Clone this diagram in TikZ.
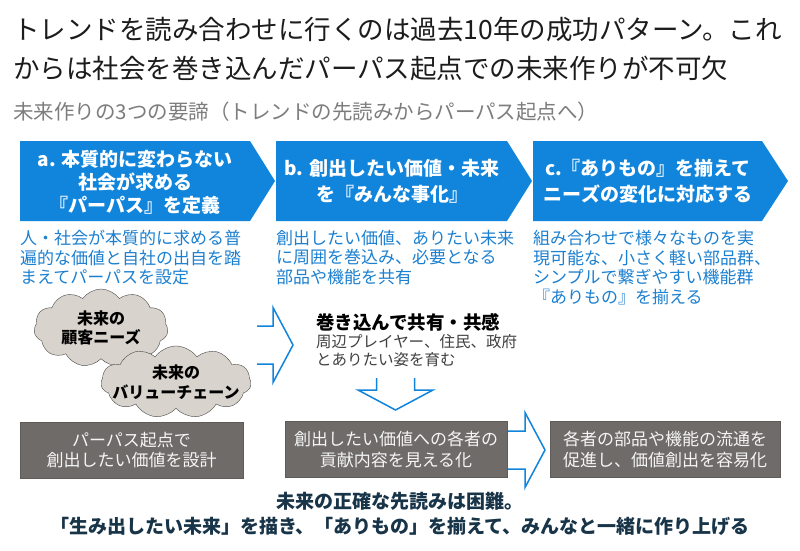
\documentclass[tikz,border=0pt]{standalone}
\usepackage{fontspec}
\setmainfont{Noto Sans CJK JP}
\usepackage{tikz}
\usetikzlibrary{shapes.symbols}
\definecolor{chevblue}{RGB}{17,133,220}
\definecolor{txtblue}{RGB}{28,128,208}
\definecolor{boxgray}{RGB}{111,107,105}
\definecolor{cloudfill}{RGB}{216,211,204}
\definecolor{navy}{RGB}{24,52,72}
\definecolor{subgray}{RGB}{125,125,125}
\definecolor{titlegray}{RGB}{28,28,28}

\begin{document}
\begin{tikzpicture}[x=1pt,y=-1pt,
    chevtext/.style={white,font=\bfseries\fontsize{19}{23}\selectfont,align=center},
    desc/.style={txtblue,font=\fontsize{17}{19.5}\selectfont,align=left,anchor=north west,inner sep=0pt},
    cloudnode/.style={cloud,cloud puffs=11,cloud puff arc=110,cloud ignores aspect,
      draw=gray!60!black,fill=cloudfill,inner sep=0pt},
    cloudtext/.style={font=\bfseries\fontsize{16}{19.5}\selectfont,align=center,inner sep=0pt},
    graybox/.style={fill=boxgray,draw=boxgray!85!black,text=white!92!gray,
      font=\fontsize{17}{20.5}\selectfont,align=center,minimum height=56pt},
    openarrow/.style={chevblue,line width=1.5pt,line join=miter}]
    \useasboundingbox (0,0) rectangle (800,551);
    \fill[white] (0,0) rectangle (800,551);

    \node[anchor=base west,inner sep=0pt,text=titlegray,font=\fontsize{26.5}{38}\selectfont] (title1) at (13,40)
      {トレンドを読み合わせに行くのは過去10年の成功パターン。これ};
    \node[anchor=base west,inner sep=0pt,text=titlegray,font=\fontsize{26.5}{38}\selectfont] (title2) at (13,78)
      {からは社会を巻き込んだパーパス起点での未来作りが不可欠};
    \node[anchor=base west,inner sep=0pt,text=subgray,font=\fontsize{20.5}{24}\selectfont] (subtitle) at (13,119)
      {未来作りの3つの要諦（トレンドの先読みからパーパス起点へ）};

    \foreach \a/\b/\t in {20/250/275, 276/507/532, 533/762/788} {
      \fill[chevblue] (\a,141) -- (\b,141) -- (\t,181) -- (\b,221) -- (\a,221) -- cycle;
    }
    \node[chevtext] (chevA) at (135,182) {a. 本質的に変わらない\\社会が求める\\『パーパス』を定義};
    \node[chevtext,font=\bfseries\fontsize{19}{26}\selectfont] (chevB) at (392,181) {b. 創出したい価値・未来\\を『みんな事化』};
    \node[chevtext,font=\bfseries\fontsize{19}{26}\selectfont] (chevC) at (648,181) {c.『ありもの』を揃えて\\ニーズの変化に対応する};

    \node[desc] (descA) at (20,230) {人・社会が本質的に求める普\\遍的な価値と自社の出自を踏\\まえてパーパスを設定};
    \node[desc] (descB) at (276,230) {創出したい価値、ありたい未来\\に周囲を巻込み、必要となる\\部品や機能を共有};
    \node[desc] (descC) at (533,230) {組み合わせで様々なものを実\\現可能な、小さく軽い部品群、\\シンプルで繋ぎやすい機能群\\『ありもの』を揃える};

    \node[cloudnode,minimum width=134pt,minimum height=78pt] (needs) at (101,328) {};
    \node[cloudtext] (needsText) at (needs) {未来の\\顧客ニーズ};
    \node[cloudnode,minimum width=150pt,minimum height=72pt] (chain) at (176,382) {};
    \node[cloudtext] (chainText) at (chain) {未来の\\バリューチェーン};

    \node[anchor=base west,inner sep=0pt,font=\bfseries\fontsize{18.5}{22}\selectfont] (share) at (316,329) {巻き込んで共有・共感};
    \node[anchor=base west,inner sep=0pt,text=black!75,font=\fontsize{15.5}{18}\selectfont] (shareA) at (316,347) {周辺プレイヤー、住民、政府};
    \node[anchor=base west,inner sep=0pt,text=black!75,font=\fontsize{15.5}{18}\selectfont] (shareB) at (316,365) {とありたい姿を育む};

    \foreach \x/\y/\r/\l in {293/345/0/36, 545/450/0/37, 395.5/410/-90/32} {
      \draw[openarrow,shift={(\x,\y)},rotate=\r] (-\l,-19) -- (-20,-19) -- (-20,-37.5) -- (0,0)
        -- (-20,37.5) -- (-20,19) -- (-\l,19);
    }

    \node[graybox,minimum width=223pt] (design) at (131.5,450) {パーパス起点で\\創出したい価値を設計};
    \node[graybox,minimum width=222pt] (visual) at (396,449.5) {創出したい価値への各者の\\貢献内容を見える化};
    \node[graybox,minimum width=230pt] (ease) at (665,449.5) {各者の部品や機能の流通を\\促進し、価値創出を容易化};

    \node[text=navy,align=center,font=\bfseries\fontsize{19}{25}\selectfont] (summary) at (400,514)
      {未来の正確な先読みは困難。\\「生み出したい未来」を描き、「ありもの」を揃えて、みんなと一緒に作り上げる};
\end{tikzpicture}
\end{document}
